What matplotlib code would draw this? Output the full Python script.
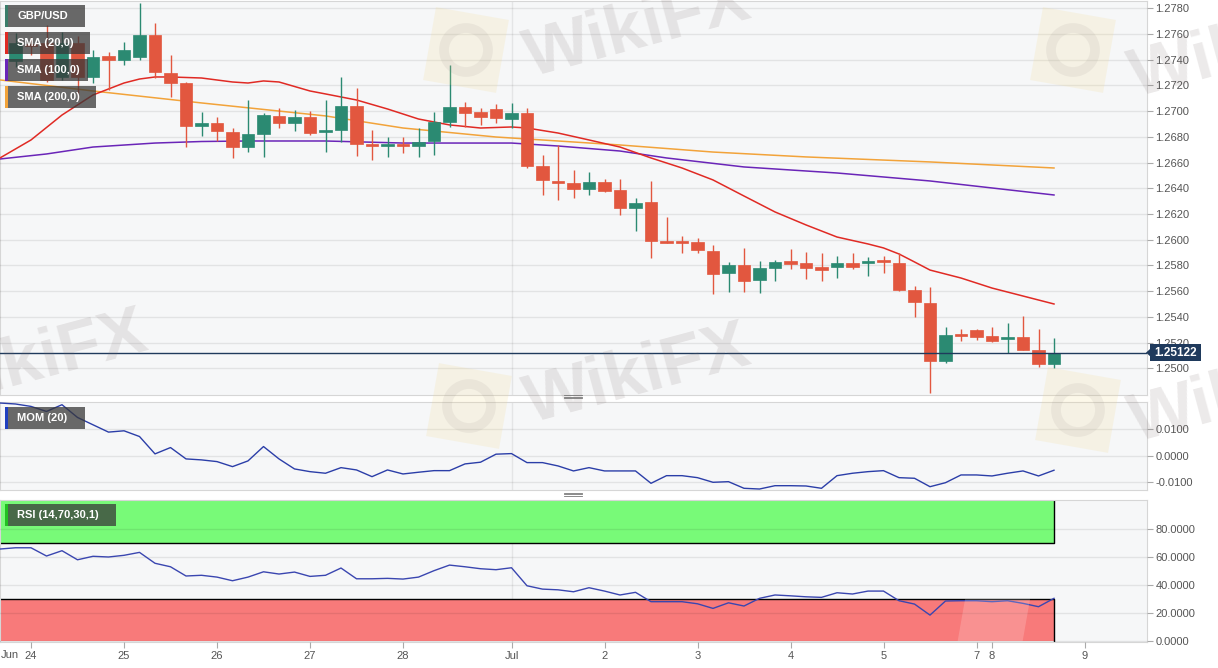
import numpy as np
import matplotlib.pyplot as plt
from matplotlib.patches import Rectangle, Circle, Polygon
from matplotlib.lines import Line2D

plt.rcParams['font.family'] = ['Liberation Sans', 'DejaVu Sans']

# ---- data (4h candles, index 0 = Jun 23 late) ----
idx = np.arange(1, 69)
opens = [1.27390, 1.27515, 1.27530, 1.27266, 1.27530, 1.27266, 1.27429, 1.27398, 1.27422, 1.27593,
         1.27297, 1.27219, 1.26885, 1.26908, 1.26838, 1.26721, 1.26823, 1.26963, 1.26908, 1.26955,
         1.26838, 1.26854, 1.27040, 1.26745, 1.26729, 1.26745, 1.26729, 1.26768, 1.26916, 1.27033,
         1.26994, 1.27017, 1.26939, 1.26986, 1.26574, 1.26457, 1.26441, 1.26395, 1.26449, 1.26387,
         1.26247, 1.26293, 1.25990, 1.25982, 1.25982, 1.25912, 1.25741, 1.25803, 1.25687, 1.25780,
         1.25834, 1.25819, 1.25788, 1.25788, 1.25819, 1.25819, 1.25834, 1.25819, 1.25609, 1.25508,
         1.25056, 1.25266, 1.25298, 1.25251, 1.25228, 1.25243, 1.25142, 1.25033]
closes = [1.27530, 1.27507, 1.27243, 1.27530, 1.27266, 1.27422, 1.27398, 1.27476, 1.27593, 1.27305,
          1.27219, 1.26885, 1.26908, 1.26846, 1.26721, 1.26823, 1.26970, 1.26908, 1.26955, 1.26830,
          1.26854, 1.27040, 1.26745, 1.26729, 1.26745, 1.26729, 1.26760, 1.26916, 1.27033, 1.26986,
          1.26955, 1.26947, 1.26986, 1.26574, 1.26465, 1.26441, 1.26395, 1.26449, 1.26379, 1.26247,
          1.26286, 1.25990, 1.25975, 1.25975, 1.25920, 1.25733, 1.25803, 1.25679, 1.25780, 1.25827,
          1.25811, 1.25780, 1.25764, 1.25819, 1.25788, 1.25827, 1.25827, 1.25609, 1.25515, 1.25056,
          1.25259, 1.25251, 1.25243, 1.25212, 1.25243, 1.25142, 1.25033, 1.25122]
highs = [1.27608, 1.27577, 1.27671, 1.27616, 1.27585, 1.27476, 1.27460, 1.27538, 1.27842, 1.27686,
         1.27437, 1.27227, 1.26994, 1.26955, 1.26869, 1.27087, 1.26986, 1.27025, 1.27009, 1.27001,
         1.27087, 1.27266, 1.27180, 1.26854, 1.26799, 1.26799, 1.26869, 1.26994, 1.27359, 1.27071,
         1.27025, 1.27056, 1.27064, 1.27025, 1.26659, 1.26737, 1.26542, 1.26527, 1.26472, 1.26472,
         1.26325, 1.26457, 1.26177, 1.26029, 1.26013, 1.25959, 1.25827, 1.25936, 1.25834, 1.25842,
         1.25928, 1.25904, 1.25897, 1.25873, 1.25897, 1.25866, 1.25873, 1.25897, 1.25640, 1.25632,
         1.25321, 1.25305, 1.25305, 1.25321, 1.25352, 1.25407, 1.25305, 1.25235]
lows = [1.27344, 1.27437, 1.27227, 1.27243, 1.27087, 1.27219, 1.27165, 1.27359, 1.27398, 1.27258,
        1.27110, 1.26721, 1.26807, 1.26768, 1.26636, 1.26682, 1.26644, 1.26869, 1.26846, 1.26815,
        1.26682, 1.26760, 1.26651, 1.26620, 1.26644, 1.26675, 1.26644, 1.26659, 1.26877, 1.26877,
        1.26893, 1.26908, 1.26869, 1.26558, 1.26348, 1.26309, 1.26325, 1.26348, 1.26371, 1.26192,
        1.26068, 1.25858, 1.25975, 1.25897, 1.25897, 1.25578, 1.25593, 1.25593, 1.25586, 1.25679,
        1.25772, 1.25694, 1.25679, 1.25702, 1.25772, 1.25718, 1.25741, 1.25601, 1.25399, 1.24807,
        1.25041, 1.25212, 1.25220, 1.25204, 1.25119, 1.25142, 1.25010, 1.25002]
last_price = 1.25122

sma20_idx = [0, 2, 4, 6, 8, 9, 10, 11, 13, 15, 16, 17, 18, 20, 21, 23, 25, 27, 29, 31,
             33, 34, 36, 38, 40, 42, 44, 46, 48, 50, 52, 54, 56, 57, 58, 59, 60, 62, 64, 66, 68]
sma20 = [1.26636, 1.26776, 1.26970, 1.27126, 1.27219, 1.27250, 1.27266, 1.27266, 1.27258, 1.27227,
         1.27219, 1.27235, 1.27227, 1.27157, 1.27134, 1.27087, 1.27017, 1.26939, 1.26893, 1.26869,
         1.26877, 1.26869, 1.26830, 1.26776, 1.26721, 1.26636, 1.26558, 1.26465, 1.26340, 1.26216,
         1.26115, 1.26021, 1.25967, 1.25936, 1.25889, 1.25827, 1.25764, 1.25702, 1.25624, 1.25562,
         1.25500]
sma100_idx = [0, 3, 6, 10, 13, 16, 21, 26, 33, 36, 40, 43, 48, 54, 60, 68]
sma100 = [1.26628, 1.26667, 1.26721, 1.26752, 1.26764, 1.26768, 1.26768, 1.26752, 1.26752, 1.26729,
          1.26690, 1.26636, 1.26566, 1.26519, 1.26457, 1.26348]
sma200_idx = [0, 6, 13, 21, 26, 32, 40, 46, 52, 60, 68]
sma200 = [1.27243, 1.27157, 1.27064, 1.26963, 1.26869, 1.26799, 1.26737, 1.26682, 1.26644, 1.26605,
          1.26558]

ind_idx = np.arange(0, 69)
mom = [0.01977, 0.01940, 0.01849, 0.01660, 0.01913, 0.01434, 0.01158, 0.00883, 0.00932, 0.00717,
       0.00064, 0.00302, -0.00125, -0.00162, -0.00226, -0.00415, -0.00200, 0.00340, -0.00125, -0.00502,
       -0.00604, -0.00664, -0.00453, -0.00540, -0.00792, -0.00540, -0.00691, -0.00626, -0.00566, -0.00566,
       -0.00313, -0.00249, 0.00053, 0.00075, -0.00264, -0.00264, -0.00389, -0.00577, -0.00453, -0.00577,
       -0.00577, -0.00577, -0.01042, -0.00755, -0.00755, -0.00830, -0.01004, -0.00981, -0.01230, -0.01257,
       -0.01132, -0.01132, -0.01143, -0.01230, -0.00755, -0.00664, -0.00604, -0.00566, -0.00830, -0.00853,
       -0.01170, -0.01019, -0.00728, -0.00728, -0.00766, -0.00664, -0.00577, -0.00766, -0.00551]
rsi = [65.9, 66.8, 66.8, 60.9, 64.7, 58.2, 60.7, 60.2, 61.4, 63.5,
       55.7, 53.2, 46.6, 47.1, 45.8, 43.2, 45.8, 49.6, 48.0, 49.4,
       46.3, 47.1, 52.3, 44.6, 44.6, 44.9, 44.4, 45.8, 50.4, 54.4,
       53.2, 51.8, 51.1, 52.5, 39.6, 37.2, 36.7, 35.3, 38.2, 35.8,
       33.0, 34.9, 28.2, 28.2, 28.2, 26.7, 23.4, 27.4, 25.1, 30.6,
       33.0, 32.4, 31.7, 31.3, 34.6, 33.7, 35.8, 35.8, 28.9, 26.5,
       18.6, 28.7, 28.9, 28.9, 28.2, 28.9, 27.0, 24.6, 30.6]

date_ticks = [2, 8, 14, 20, 26, 33, 39, 45, 51, 57, 63, 64, 70]
date_labels = ['24', '25', '26', '27', '28', 'Jul', '2', '3', '4', '5', '7', '8', '9']
price_ticks = np.arange(1.2500, 1.27801, 0.002)
mom_ticks = [-0.01, 0.0, 0.01]
rsi_ticks = [0, 20, 40, 60, 80]

# ---- figure ----
W, H = 1218, 668
fig = plt.figure(figsize=(W / 100, H / 100), dpi=100)
fig.patch.set_facecolor('white')


def px_axes(x0, y0, x1, y1):
    return fig.add_axes([x0 / W, 1 - y1 / H, (x1 - x0) / W, (y1 - y0) / H])


def fx(x):
    return x / W


def fy(y):
    return 1 - y / H


ax = px_axes(0, 1, 1147, 395)
axm = px_axes(0, 402, 1147, 490)
axr = px_axes(0, 500, 1147, 641.5)

for a in (ax, axm, axr):
    a.set_facecolor('#f6f7f8')
    a.set_xlim(0, 74)
    a.yaxis.tick_right()
    a.tick_params(axis='y', length=4, color='#aaaaaa', labelcolor='#555555', labelsize=8, pad=2)
    for s in a.spines.values():
        s.set_color('#d6d6d6')
    a.grid(axis='y', color='k', alpha=0.08, lw=1)
    a.axvline(33, color='k', alpha=0.07, lw=1, zorder=0.5)
    a.set_axisbelow(False)

ax.set_xticks([])
axm.set_xticks([])

# candles
up = np.array(closes) >= np.array(opens)
cols = np.where(up, '#2b8a72', '#e2573f')
bottoms = np.minimum(opens, closes)
heights = np.maximum(np.abs(np.array(closes) - np.array(opens)), 0.00012)
ax.vlines(idx, lows, highs, colors=cols, lw=1, zorder=3)
ax.bar(idx, heights, bottom=bottoms, width=0.78, color=cols, edgecolor=cols, lw=0.5, zorder=3.5)

ax.plot(sma200_idx, sma200, color='#f2a33a', lw=1.1, zorder=2.8)
ax.plot(sma100_idx, sma100, color='#6a25b8', lw=1.1, zorder=2.8)
ax.plot(sma20_idx, sma20, color='#e02a24', lw=1.1, zorder=2.8)
ax.axhline(last_price, color='#1f3a5c', lw=1, zorder=4)

ax.set_ylim(1.24792, 1.27857)
ax.set_yticks(price_ticks)
ax.set_yticklabels(['%.4f' % v for v in price_ticks])

# momentum
axm.plot(ind_idx, mom, color='#2b3ea8', lw=1, zorder=3)
axm.set_ylim(-0.01294, 0.02015)
axm.set_yticks(mom_ticks)
axm.set_yticklabels(['%.4f' % v for v in mom_ticks])

# rsi
axr.add_patch(Rectangle((0, 70), 68, 30, fc='#78fa78', ec='none', zorder=1))
axr.add_patch(Rectangle((0, 0), 68, 30, fc='#f87a7a', ec='none', zorder=1))
axr.plot([0, 68, 68], [70, 70, 100], color='k', lw=1, zorder=2)
axr.plot([0, 68, 68], [30, 30, 0], color='k', lw=1, zorder=2)
axr.plot(ind_idx, rsi, color='#3a46b0', lw=1, zorder=3)
axr.set_ylim(-0.3, 101)
axr.set_yticks(rsi_ticks)
axr.set_yticklabels(['%.4f' % v for v in rsi_ticks])
axr.set_xticks(date_ticks)
axr.set_xticklabels(date_labels)
axr.tick_params(axis='x', length=4, color='#aaaaaa', labelcolor='#555555', labelsize=8, pad=3)
fig.text(fx(1), fy(655), 'Jun', color='#555555', fontsize=8, va='center', ha='left')

# faint watermarks (pixel positions, drawn in inches so squares stay square)
inch = fig.dpi_scale_trans
for (cx, cy) in [(466, 50), (1073, 50), (469, 406), (1078, 410)]:
    fig.add_artist(Rectangle(((cx - 37) / 100, (H - cy - 37) / 100), 0.74, 0.74, angle=-10,
                             rotation_point='center', transform=inch, fc='#f3d98a', ec='none',
                             alpha=0.18, zorder=10))
    fig.add_artist(Circle((cx / 100, (H - cy) / 100), 0.22, transform=inch, fc='none',
                          ec='#8a8080', lw=7, alpha=0.1, zorder=10))
# bottom one only shows over the red band
wm = Rectangle(((993 - 32) / 100, (H - 625 - 32) / 100), 0.64, 0.64, angle=-10,
               rotation_point='center', transform=inch, fc='white', ec='none', alpha=0.18, zorder=10)
fig.add_artist(wm)
wm.set_clip_path(Rectangle((0, 0), 68, 30, transform=axr.transData))
for (cx, cy) in [(638, 30), (1243, 50), (35, 362), (638, 376), (1243, 395)]:
    fig.text(fx(cx), fy(cy), 'WikiFX', fontsize=50, fontweight='bold', color='#7a6a6a',
             alpha=0.14, ha='center', va='center', rotation=15, rotation_mode='anchor', zorder=11)

# legend boxes
legends = [('GBP/USD', 5, 85, 5, 27, '#3a7d6a'),
           ('SMA (20,0)', 5, 90, 32, 54, '#e02a24'),
           ('SMA (100,0)', 5, 88, 59, 81, '#6a25b8'),
           ('SMA (200,0)', 5, 96, 86, 108, '#f2a33a'),
           ('MOM (20)', 5, 85, 407, 429, '#2040c0'),
           ('RSI (14,70,30,1)', 5, 116, 504, 526, '#22c022')]
for (lab, x0, x1, y0, y1, c) in legends:
    fig.add_artist(Rectangle((fx(x0), fy(y1)), (x1 - x0) / W, (y1 - y0) / H,
                             transform=fig.transFigure, fc='#383838', ec='none', alpha=0.75, zorder=12))
    fig.add_artist(Rectangle((fx(x0), fy(y1)), 2.5 / W, (y1 - y0) / H,
                             transform=fig.transFigure, fc=c, ec='none', zorder=13))
    fig.text(fx(17), fy((y0 + y1) / 2), lab, color='white', fontsize=8, fontweight='bold',
             va='center', ha='left', zorder=13)

# price tag
yp = 352.6
fig.add_artist(Rectangle((fx(1150), fy(yp + 8.5)), 51 / W, 17 / H, transform=fig.transFigure,
                         fc='#1f3a5c', ec='none', zorder=14))
fig.add_artist(Polygon([(fx(1146), fy(yp)), (fx(1150.5), fy(yp - 4)), (fx(1150.5), fy(yp + 4))],
                       closed=True, transform=fig.transFigure, fc='#1f3a5c', ec='none', zorder=14))
fig.text(fx(1175.5), fy(yp), '%.5f' % last_price, color='white', fontsize=8.5, fontweight='bold',
         ha='center', va='center', zorder=15)

# drag handles
for yh in (396.5, 494):
    for dy in (-1.5, 0, 1.5):
        fig.add_artist(Line2D([fx(564), fx(582)], [fy(yh + dy), fy(yh + dy)],
                              transform=fig.transFigure, color='#777777', lw=0.6, zorder=14))

fig.savefig('out.png', dpi=100, facecolor='white')
